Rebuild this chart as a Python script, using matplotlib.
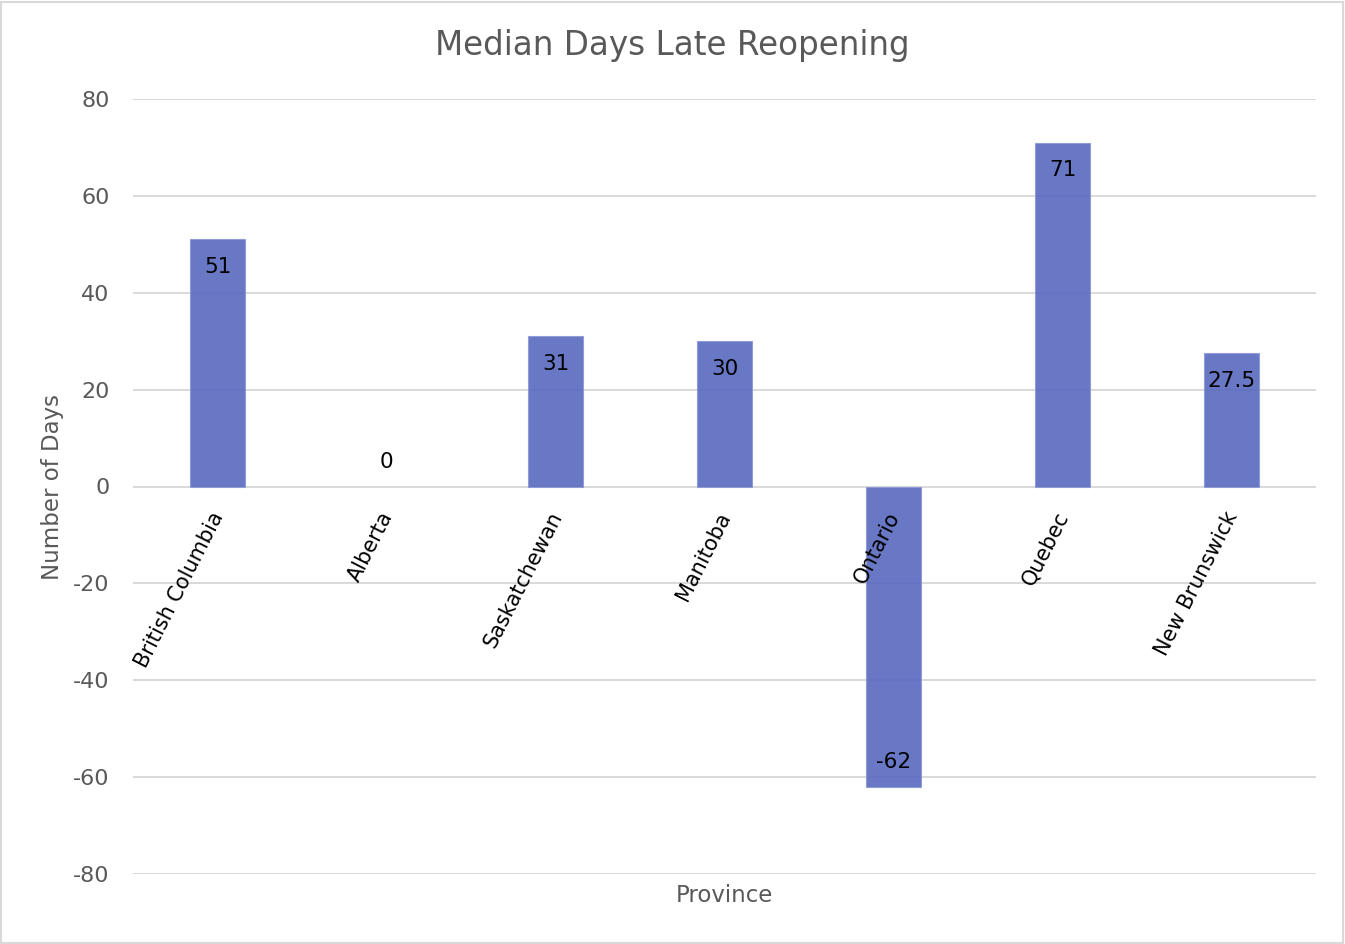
import matplotlib
matplotlib.use("Agg")
import matplotlib.pyplot as plt
from matplotlib.patches import Rectangle

provinces = ["British Columbia", "Alberta", "Saskatchewan", "Manitoba",
             "Ontario", "Quebec", "New Brunswick"]
median_days_late = [51, 0, 31, 30, -62, 71, 27.5]
value_labels = ["51", "0", "31", "30", "-62", "71", "27.5"]
y_ticks = [-80, -60, -40, -20, 0, 20, 40, 60, 80]

W, H, DPI = 1345, 944, 100
fig = plt.figure(figsize=(W / DPI, H / DPI), dpi=DPI)
fig.patch.set_facecolor("white")

# light outer border of the chart area
fig.add_artist(Rectangle((1 / W, 1 / H), 1 - 3 / W, 1 - 3 / H, transform=fig.transFigure,
                         fill=False, edgecolor="#D9D9D9", linewidth=1.5))

left, right, top, bottom = 133 / W, 1316 / W, 99 / H, 874 / H
ax = fig.add_axes([left, 1 - bottom, right - left, bottom - top])

grid_col = "#D9D9D9"
text_col = "#595959"

x = list(range(len(provinces)))
ax.set_xlim(-0.5, len(provinces) - 0.5)
ax.set_ylim(-80, 80)
ax.set_yticks(y_ticks)
ax.set_yticklabels([str(v) for v in y_ticks], color=text_col, fontsize=16)
ax.tick_params(axis="y", length=0, pad=17)
ax.set_xticks([])
for s in ax.spines.values():
    s.set_visible(False)

for v in y_ticks:
    ax.axhline(v, color=grid_col, linewidth=1.4, zorder=1)

bars = ax.bar(x, median_days_late, width=0.32, color="#5b6cc0", alpha=0.92,
              linewidth=0, zorder=2)
for b, v in zip(bars, median_days_late):
    if v != 0:
        b.set_edgecolor("#8f9ad6")
        b.set_linewidth(0.8)

# value labels at the inside end of each bar
for xi, v, lab in zip(x, median_days_late, value_labels):
    dy = -20 if v > 0 else 18
    ax.annotate(lab, (xi, v), xytext=(0, dy), textcoords="offset points",
                ha="center", va="center", fontsize=15.5, color="black", zorder=3)

# category labels hang from the zero line
for xi, name in zip(x, provinces):
    ax.annotate(name, (xi, 0), xytext=(1, -19), textcoords="offset points",
                ha="right", va="center", rotation=63, rotation_mode="anchor",
                fontsize=15, color="black", zorder=3)

fig.text(0.5, 1 - 46 / H, "Median Days Late Reopening",
         ha="center", va="center", fontsize=23.5, color=text_col)
fig.text((left + right) / 2, 1 - 895 / H, "Province",
         ha="center", va="center", fontsize=16.5, color=text_col)
fig.text(53 / W, 1 - 487 / H, "Number of Days", rotation=90,
         ha="center", va="center", fontsize=16.5, color=text_col)

fig.savefig("out.png", dpi=DPI, facecolor="white")
